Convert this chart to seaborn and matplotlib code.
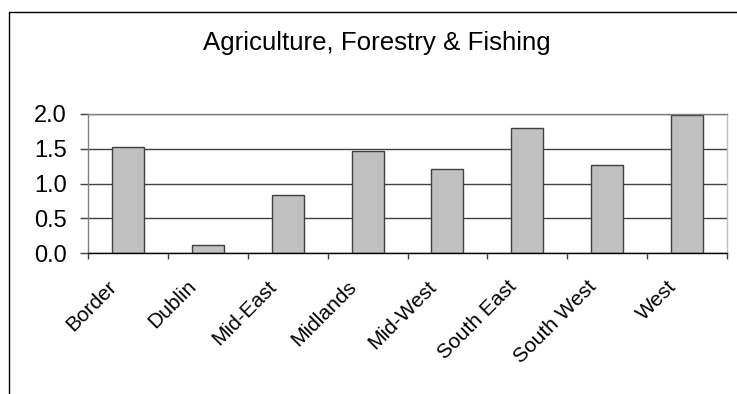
import matplotlib
matplotlib.use("Agg")
import matplotlib.pyplot as plt
import matplotlib.transforms as mtransforms
from matplotlib.lines import Line2D
from matplotlib.ticker import FixedLocator, FormatStrFormatter
import seaborn as sns
import pandas as pd

regions = ["Border", "Dublin", "Mid-East", "Midlands", "Mid-West",
           "South East", "South West", "West"]
values = [1.52, 0.11, 0.83, 1.47, 1.21, 1.80, 1.27, 1.98]
y_ticks = [0.0, 0.5, 1.0, 1.5, 2.0]
title = "Agriculture, Forestry & Fishing"

sns.set_theme(style="white")
plt.rcParams["font.family"] = ["Liberation Sans", "DejaVu Sans"]
plt.rcParams["text.color"] = "black"
plt.rcParams["xtick.color"] = "black"
plt.rcParams["ytick.color"] = "black"

W, H = 737, 394
fig = plt.figure(figsize=(W / 100, H / 100), dpi=100)
fig.patch.set_facecolor("white")

ax = fig.add_axes([88 / W, 1 - 253 / H, (727 - 88) / W, (253 - 114) / H])
df = pd.DataFrame({"region": regions, "value": values})
sns.barplot(data=df, x="region", y="value", color="#C0C0C0", saturation=1,
            width=0.4, edgecolor="#404040", linewidth=1.0, ax=ax)

ax.set_xlim(-0.5, len(regions) - 0.5)
ax.set_ylim(0, 2.0)
ax.set_yticks(y_ticks)
ax.yaxis.set_major_formatter(FormatStrFormatter("%.1f"))
ax.set_xlabel("")
ax.set_ylabel("")
ax.set_axisbelow(True)
ax.yaxis.grid(True, color="#404040", linewidth=1.0)
ax.xaxis.grid(False)

for side, col in [("top", "#808080"), ("right", "#C0C0C0"),
                  ("left", "#808080"), ("bottom", "#000000")]:
    ax.spines[side].set_visible(True)
    ax.spines[side].set_color(col)
    ax.spines[side].set_linewidth(1.0)

ax.tick_params(axis="y", which="major", direction="out", length=5.8, width=1,
               color="#404040", labelcolor="black", pad=9.4, labelsize=17, left=True)
ax.xaxis.set_minor_locator(FixedLocator([i - 0.5 for i in range(len(regions) + 1)]))
ax.tick_params(axis="x", which="minor", direction="out", length=4.5, width=1,
               color="#404040", bottom=True)
ax.tick_params(axis="x", which="major", length=0, pad=22, labelsize=15,
               labelcolor="black", bottom=True)

shift = mtransforms.ScaledTranslation(-14 / 100, 0, fig.dpi_scale_trans)
for lab in ax.get_xticklabels():
    lab.set_rotation(45)
    lab.set_ha("right")
    lab.set_va("center")
    lab.set_rotation_mode("anchor")
    lab.set_transform(lab.get_transform() + shift)

fig.text(376.5 / W, 1 - 50 / H, title, ha="center", va="baseline", fontsize=18.6,
         color="black")

# outer chart frame (clipped at right and bottom)
fig.add_artist(Line2D([9 / W, 9 / W], [1 - 12 / H, 0], transform=fig.transFigure,
                      color="black", linewidth=1.0))
fig.add_artist(Line2D([9 / W, 1], [1 - 12 / H, 1 - 12 / H], transform=fig.transFigure,
                      color="black", linewidth=1.0))

fig.savefig("out.png", dpi=100, facecolor="white")
